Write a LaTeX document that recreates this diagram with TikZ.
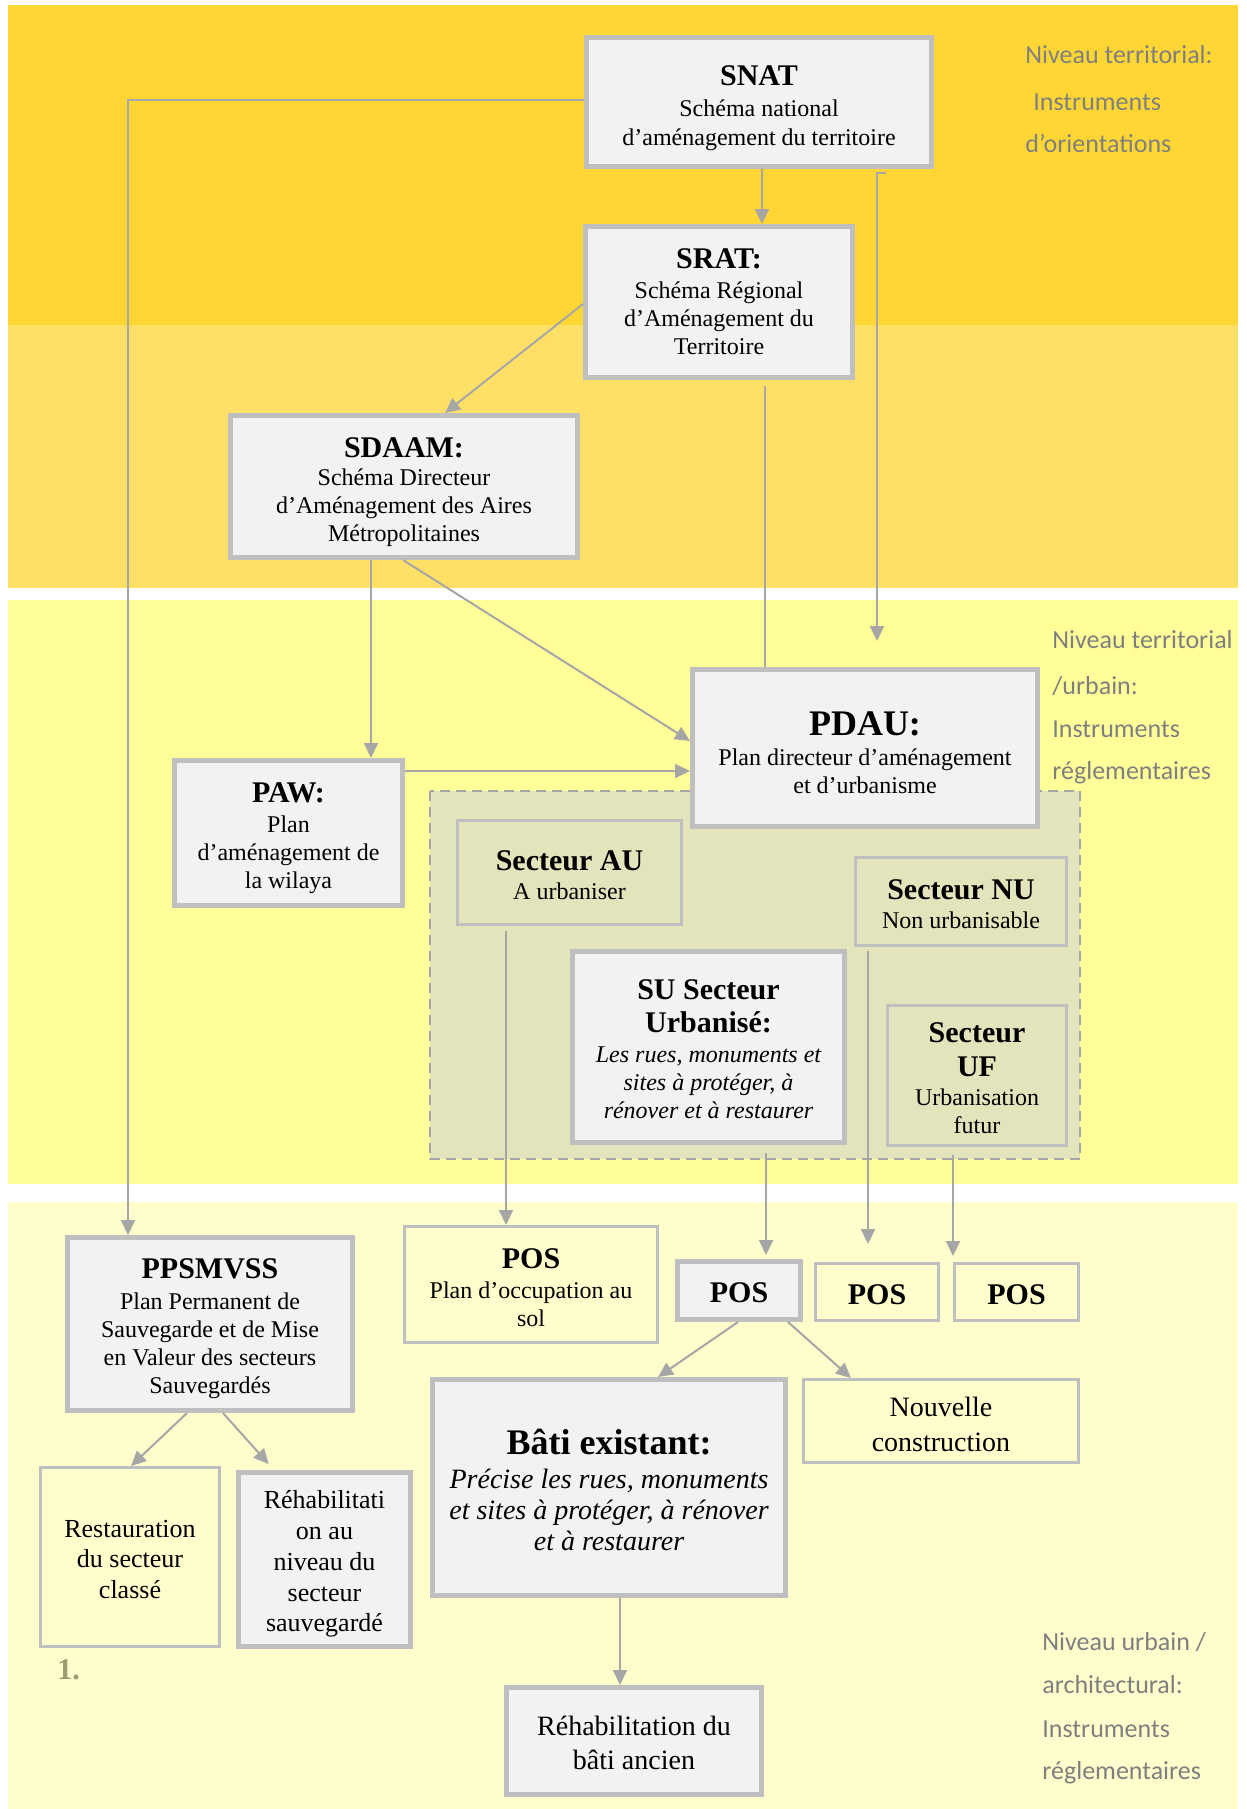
\documentclass[tikz,border=0pt]{standalone}
\usepackage{fontspec}
\setmainfont{Liberation Serif}
\newfontfamily\handfont{Carlito}
\usetikzlibrary{arrows.meta}

\definecolor{bandgold}{HTML}{FFD633}
\definecolor{bandlightgold}{HTML}{FFE066}
\definecolor{bandyellow}{HTML}{FFFF99}
\definecolor{bandpale}{HTML}{FFFDCC}
\definecolor{zonefill}{HTML}{E3E3BC}
\definecolor{boxfill}{HTML}{F2F2F2}
\definecolor{boxline}{HTML}{BFBFBF}
\definecolor{linkgray}{HTML}{A6A6A6}
\definecolor{notegray}{HTML}{7F7F7F}
\definecolor{olivenum}{HTML}{9C9C6E}

\newcommand\hd[1]{{\fontsize{15}{17}\selectfont\bfseries #1}}
\newcommand\bighd[1]{{\fontsize{18}{20}\selectfont\bfseries #1}}
% invisible strut that sets the height of a first line
\newcommand\lift[1]{\rule{0pt}{#1pt}}

\tikzset{
  heavybox/.style={draw=boxline, line width=2.5pt, fill=boxfill, align=center,
    inner sep=0pt, font=\fontsize{12}{14}\selectfont},
  lightbox/.style={draw=boxline, line width=1.3pt, align=center,
    inner sep=0pt, font=\fontsize{12}{14}\selectfont},
  conn/.style={draw=linkgray, line width=1pt},
  arr/.style={-{Triangle[length=7.5pt,width=7pt]}},
  note/.style={anchor=base west, inner sep=0pt, text=notegray,
    font=\handfont\fontsize{13}{15}\selectfont}
}

\begin{document}
\begin{tikzpicture}[x=0.5pt, y=-0.5pt]
\useasboundingbox (0,0) rectangle (1247,1809);
\fill[white] (0,0) rectangle (1247,1809);

% level bands
\fill[bandgold] (8,5) rectangle (1238,325);
\fill[bandlightgold] (8,325) rectangle (1238,588);
\fill[bandyellow] (8,600) rectangle (1238,1184);
\fill[bandpale] (8,1202) rectangle (1238,1809);

% zoning of the PDAU
\draw[linkgray, line width=1pt, dash pattern=on 5pt off 3pt, fill=zonefill]
  (430,791) rectangle (1080,1159);

% level captions
\node[note] (n1a) at (1025,64) {Niveau territorial:};
\node[note] (n1b) at (1033,111) {Instruments};
\node[note] (n1c) at (1025,153) {d’orientations};
\node[note] (n2a) at (1052,648) {Niveau territorial};
\node[note] (n2b) at (1052,694) {/urbain:};
\node[note] (n2c) at (1052,737) {Instruments};
\node[note] (n2d) at (1052,779) {réglementaires};
\node[note] (n3a) at (1042,1650) {Niveau urbain /};
\node[note] (n3b) at (1042,1693) {architectural:};
\node[note] (n3c) at (1042,1737) {Instruments};
\node[note] (n3d) at (1042,1779) {réglementaires};

% territorial instruments
\node[heavybox, minimum width=172.5pt, minimum height=64.5pt,
  font=\fontsize{12}{14.5}\selectfont] (snat) at (759,102)
  {\lift{15.8}\hd{SNAT}\\[1pt] Schéma national\\ d’aménagement du territoire};
\node[heavybox, minimum width=133.5pt, minimum height=75.5pt] (srat) at (719,302)
  {\hd{SRAT:}\\[1pt] Schéma Régional\\ d’Aménagement du\\ Territoire};
\node[heavybox, minimum width=173.5pt, minimum height=71pt] (sdaam) at (404,486.5)
  {\lift{16}\hd{SDAAM:}\\ Schéma Directeur\\ d’Aménagement des Aires\\ Métropolitaines};

% urban planning instruments
\node[heavybox, minimum width=172.5pt, minimum height=78.5pt] (pdau) at (865,748)
  {\lift{16.5}\bighd{PDAU:}\\[1.3pt] Plan directeur d’aménagement\\ et d’urbanisme};
\node[heavybox, minimum width=114pt, minimum height=72.5pt] (paw) at (288.5,833)
  {\lift{15.2}\hd{PAW:}\\[1pt] Plan\\ d’aménagement de\\ la wilaya};

\node[lightbox, minimum width=112.2pt, minimum height=52.2pt] (au) at (569.5,872.5)
  {\lift{12.3}\hd{Secteur AU}\\[0.5pt] A urbaniser};
\node[lightbox, minimum width=105.7pt, minimum height=44.2pt] (nu) at (961,901.5)
  {\lift{12.8}\hd{Secteur NU}\\[0.5pt] Non urbanisable};
\node[heavybox, minimum width=136pt, minimum height=95.5pt] (su) at (708.5,1047)
  {\lift{12.3}\hd{SU Secteur}\\[2.5pt] \hd{Urbanisé:}\\[1pt] \itshape Les rues, monuments et\\
   \itshape sites à protéger, à\\ \itshape rénover et à restaurer};
\node[lightbox, minimum width=89.7pt, minimum height=70.2pt] (uf) at (977,1075.5)
  {\lift{12.8}\hd{Secteur}\\[3pt] \hd{UF}\\[0.5pt] Urbanisation\\ futur};

% detailed instruments
\node[heavybox, minimum width=142.5pt, minimum height=86.5pt] (ppsm) at (210,1324)
  {\lift{14.6}\hd{PPSMVSS}\\[1.5pt] Plan Permanent de\\ Sauvegarde et de Mise\\ en Valeur des secteurs\\ Sauvegardés};
\node[lightbox, minimum width=126.7pt, minimum height=58.2pt] (pos1) at (531,1284.5)
  {\lift{12.8}\hd{POS}\\[1pt] Plan d’occupation au\\ sol};
\node[heavybox, minimum width=61.5pt, minimum height=29pt] (posg) at (739,1290.5) {\lift{12.3}\hd{POS}};
\node[lightbox, minimum width=61.7pt, minimum height=28.7pt] (pos2) at (877,1292) {\lift{12.3}\hd{POS}};
\node[lightbox, minimum width=62.2pt, minimum height=28.7pt] (pos3) at (1016.5,1292) {\lift{12.3}\hd{POS}};

\node[heavybox, minimum width=176.5pt, minimum height=108pt,
  font=\fontsize{14}{15.5}\selectfont] (bati) at (609,1487.5)
  {\lift{15.1}\bighd{Bâti existant:}\\[1.5pt] \itshape Précise les rues, monuments\\
   \itshape et sites à protéger, à rénover\\ \itshape et à restaurer};
\node[lightbox, minimum width=137.7pt, minimum height=41.7pt,
  font=\fontsize{14}{17.5}\selectfont] (nouv) at (941,1421)
  {\lift{13}Nouvelle\\ construction};
\node[lightbox, minimum width=89.7pt, minimum height=89.7pt,
  font=\fontsize{13}{15.3}\selectfont] (rest) at (130,1557)
  {\lift{10.8}Restauration\\ du secteur\\ classé};
\node[heavybox, minimum width=86pt, minimum height=87pt,
  font=\fontsize{13}{15.4}\selectfont] (rehab) at (324.5,1559.5)
  {\lift{13.5}Réhabilitati\\ on au\\ niveau du\\ secteur\\ sauvegardé};
\node[heavybox, minimum width=127.5pt, minimum height=53.5pt,
  font=\fontsize{14}{17}\selectfont] (rehabb) at (634,1741)
  {\lift{11.8}Réhabilitation du\\ bâti ancien};

\node[anchor=base west, inner sep=0pt, text=olivenum,
  font=\fontsize{15}{17}\selectfont\bfseries] (num) at (57,1679) {1.};

% connectors
\draw[conn,arr] (snat.west |- 0,100) -| (128,0 |- ppsm.north);
\draw[conn,arr] (762,0 |- snat.south) -- (762,0 |- srat.north);
\coordinate (pdauin) at (877,641);
\draw[conn,arr] (886,0 |- snat.south) ++(0,4) -| (pdauin);
\draw[conn,arr] (srat.west |- 0,304) -- (445,0 |- sdaam.north);
\draw[conn] (765,0 |- srat.south) ++(0,6) -- (765,0 |- pdau.north);
\draw[conn,arr] (371,0 |- sdaam.south) -- (371,0 |- paw.north);
\draw[conn,arr] (403,0 |- sdaam.south) -- (pdau.west |- 0,741);
\draw[conn,arr] (paw.east |- 0,771) -- (pdau.west |- 0,771);
\draw[conn,arr] (506,0 |- au.south) ++(0,5) -- (506,0 |- pos1.north);
\draw[conn,arr,shorten >=2pt] (766,0 |- su.south) ++(0,8) -- (766,0 |- posg.north);
\draw[conn,arr,shorten >=9pt] (868,0 |- nu.south) ++(0,4) -- (868,0 |- pos2.north);
\draw[conn,arr,shorten >=3pt] (953,0 |- uf.south) ++(0,8) -- (953,0 |- pos3.north);
\draw[conn,arr] (738,0 |- posg.south) -- (658,0 |- bati.north);
\draw[conn,arr] (788,0 |- posg.south) -- (851,0 |- nouv.north);
\draw[conn,arr] (187,0 |- ppsm.south) -- (131,0 |- rest.north);
\draw[conn,arr,shorten >=4pt] (223,0 |- ppsm.south) -- (274,0 |- rehab.north);
\draw[conn,arr] (620,0 |- bati.south) -- (620,0 |- rehabb.north);
\end{tikzpicture}
\end{document}
